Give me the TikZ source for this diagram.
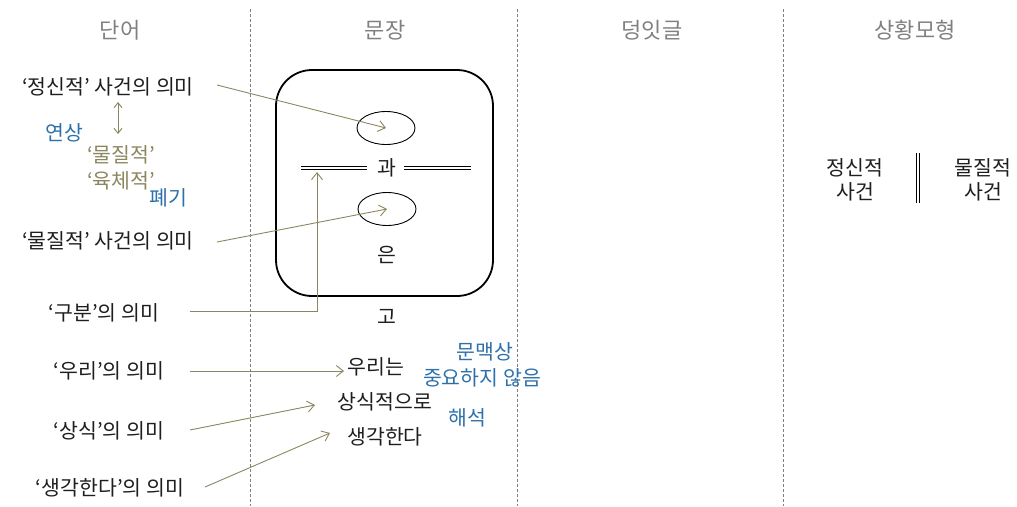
\documentclass[tikz,border=0pt]{standalone}
\usepackage{fontspec}
\setmainfont{Noto Sans CJK KR}
\usetikzlibrary{arrows.meta,shapes.geometric}
\definecolor{olive}{RGB}{140,134,96}
\definecolor{hdr}{RGB}{128,128,128}
\definecolor{blu}{RGB}{46,112,170}
\definecolor{txt}{RGB}{30,30,30}
\tikzset{
  txtnode/.style={inner sep=0pt, text=txt, font=\fontsize{20.5}{24}\selectfont},
  hdrnode/.style={inner sep=0pt, text=hdr, font=\fontsize{22}{25}\selectfont},
  blunode/.style={inner sep=0pt, text=blu, font=\fontsize{20.5}{24}\selectfont},
  olvnode/.style={inner sep=0pt, text=olive, font=\fontsize{20.5}{24}\selectfont},
  sep/.style={draw=hdr, line width=0.7pt, dash pattern=on 3pt off 2pt},
  arr/.style={draw=olive, line width=0.9pt, -{Straight Barb[length=7pt,width=11pt]}},
  dbl/.style={draw=black, double, double distance=2pt, line width=0.9pt},
  ell/.style={draw=black, line width=0.9pt, ellipse, minimum width=58pt, minimum height=33pt, inner sep=0pt}
}
\begin{document}
\begin{tikzpicture}[x=1pt,y=-1pt]
\useasboundingbox (0,0) rectangle (1017,506);
% separators
\coordinate (s1t) at (250,9); \coordinate (s1b) at (250,506);
\coordinate (s2t) at (517,9); \coordinate (s2b) at (517,506);
\coordinate (s3t) at (783,9); \coordinate (s3b) at (783,506);
\draw[sep] (s1t) -- (s1b);
\draw[sep] (s2t) -- (s2b);
\draw[sep] (s3t) -- (s3b);
% headers
\node[hdrnode] (h1) at (120,30) {단어};
\node[hdrnode] (h2) at (385,30) {문장};
\node[hdrnode] (h3) at (652,30) {덩잇글};
\node[hdrnode] (h4) at (915,30) {상황모형};
% left column
\node[txtnode] (jeong) at (108,87) {‘정신적’ 사건의 의미};
\node[txtnode] (mul) at (108,241) {‘물질적’ 사건의 의미};
\node[txtnode] (gubun) at (104,313) {‘구분’의 의미};
\node[txtnode] (uri) at (109,371) {‘우리’의 의미};
\node[txtnode] (sangsik) at (109,431) {‘상식’의 의미};
\node[txtnode] (saeng) at (110,488) {‘생각한다’의 의미};
\node[blunode] (yeon) at (64,133) {연상};
\node[olvnode] (mul2) at (121,155) {‘물질적’};
\node[olvnode] (yuk) at (121,181) {‘육체적’};
\node[blunode] (pye) at (168,198) {폐기};
\coordinate (da) at (118,102); \coordinate (db) at (118,134);
\draw[draw=olive, line width=0.9pt, {Straight Barb[length=5pt,width=8pt]}-{Straight Barb[length=5pt,width=8pt]}] (da) -- (db);
% middle column
\node[draw=black, line width=1.8pt, rounded corners=36pt, minimum width=217pt, minimum height=226pt] (box) at (384.5,183) {};
\node[ell] (e1) at (386,128) {};
\node[ell] (e2) at (387,209) {};
\node[txtnode] (gwa) at (387,168) {과};
\node[txtnode] (eun) at (387,255) {은};
\node[txtnode] (go) at (387,317) {고};
\coordinate (l1a) at (301,168); \coordinate (l1b) at (367,168);
\coordinate (l2a) at (404,168); \coordinate (l2b) at (471,168);
\draw[dbl] (l1a) -- (l1b);
\draw[dbl] (l2a) -- (l2b);
\node[txtnode] (urineun) at (376,367) {우리는};
\node[txtnode] (sangsikjeok) at (385,402) {상식적으로};
\node[txtnode] (saenggak) at (385,437) {생각한다};
\node[blunode] (munmaek) at (485,352) {문맥상};
\node[blunode] (jungyo) at (482,378) {중요하지 않음};
\node[blunode] (haeseok) at (467,418) {해석};
% arrows
\coordinate (a1s) at (217,85);
\coordinate (a2s) at (217,242);
\coordinate (gtip) at (317,172);
\coordinate (gs) at (190,311);
\coordinate (us) at (190,371);
\coordinate (ue) at (344,371);
\coordinate (a5s) at (190,430);
\coordinate (a5e) at (315,405);
\coordinate (a6s) at (205,487);
\coordinate (a6e) at (330,433);
\draw[arr] (a1s) -- (e1.center);
\draw[arr] (a2s) -- (e2.center);
\draw[arr] (gs) -| (gtip);
\draw[arr] (us) -- (ue);
\draw[arr] (a5s) -- (a5e);
\draw[arr] (a6s) -- (a6e);
% right column
\node[txtnode, align=center] (jsg) at (855,180) {정신적\\사건};
\node[txtnode, align=center] (msg) at (983,180) {물질적\\사건};
\coordinate (va) at (918,153); \coordinate (vb) at (918,203);
\draw[draw=black, double, double distance=2pt, line width=0.8pt] (va) -- (vb);
\end{tikzpicture}
\end{document}
